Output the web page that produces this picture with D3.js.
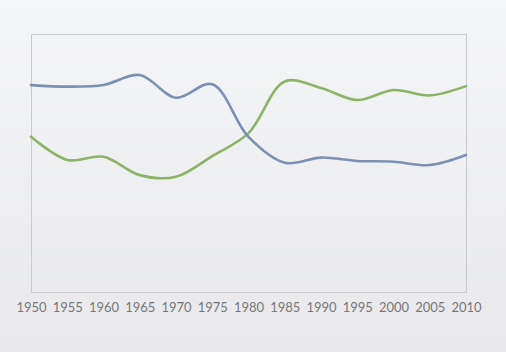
<!DOCTYPE html>
<html>
<head>
<meta charset="utf-8">
<script src="https://cdn.jsdelivr.net/npm/d3@7"></script>
<style>
  html, body { margin: 0; padding: 0; }
  body { width: 506px; height: 352px; overflow: hidden; }
</style>
</head>
<body>
<div id="chart"></div>
<script>
// Years along the bottom axis, one point per five years.
const years = [1950, 1955, 1960, 1965, 1970, 1975, 1980, 1985, 1990, 1995, 2000, 2005, 2010];
const tickLabels = years.map(String);

// Series values (no y axis shown, 0-100 relative scale).
const blueValues = [80.2, 79.6, 80.2, 84.1, 75.3, 80.5, 60.1, 50.1, 52.1, 50.8, 50.5, 49.2, 53.1];
const greenValues = [60.2, 51.2, 52.4, 45.3, 44.7, 52.7, 61.6, 81.6, 79.1, 74.4, 78.3, 76.2, 79.8];

const width = 506, height = 352;
const box = { left: 31, right: 466, top: 34, bottom: 292 };

const svg = d3.select('#chart')
  .append('svg')
  .attr('width', width)
  .attr('height', height);

// Soft slide-style background gradient.
const defs = svg.append('defs');
const grad = defs.append('linearGradient')
  .attr('id', 'bg')
  .attr('x1', 0).attr('y1', 0).attr('x2', 0).attr('y2', 1);
grad.append('stop').attr('offset', '0%').attr('stop-color', '#f5f6f7');
grad.append('stop').attr('offset', '100%').attr('stop-color', '#e8e8ea');

svg.append('rect')
  .attr('width', width)
  .attr('height', height)
  .attr('fill', 'url(#bg)');

const x = d3.scaleLinear()
  .domain([years[0], years[years.length - 1]])
  .range([box.left, box.right]);

const y = d3.scaleLinear()
  .domain([0, 100])
  .range([box.bottom, box.top]);

// Plot frame
svg.append('rect')
  .attr('x', box.left + 0.5)
  .attr('y', box.top + 0.5)
  .attr('width', box.right - box.left)
  .attr('height', box.bottom - box.top)
  .attr('fill', 'none')
  .attr('stroke', '#c9cacc')
  .attr('stroke-width', 1);

// Year labels under the frame
const xAxis = d3.axisBottom(x)
  .tickValues(years)
  .tickFormat((d, i) => tickLabels[i])
  .tickSize(0)
  .tickPadding(11);

svg.append('g')
  .attr('transform', `translate(0,${box.bottom})`)
  .call(xAxis)
  .call(g => g.select('.domain').remove())
  .call(g => g.selectAll('text')
    .attr('fill', '#777779')
    .attr('font-family', 'Lato, "Open Sans", sans-serif')
    .attr('font-weight', '400')
    .attr('font-size', 13)
    .attr('letter-spacing', '0px'));

const line = d3.line()
  .x((d, i) => x(years[i]))
  .y(d => y(d))
  .curve(d3.curveCatmullRom.alpha(0.5));

const series = [
  { values: greenValues, color: '#8db36b' },
  { values: blueValues, color: '#7c91b1' },
];

svg.selectAll('path.series')
  .data(series)
  .join('path')
  .attr('class', 'series')
  .attr('d', s => line(s.values))
  .attr('fill', 'none')
  .attr('stroke', s => s.color)
  .attr('stroke-width', 2.6)
  .attr('stroke-linecap', 'round');
</script>
</body>
</html>
